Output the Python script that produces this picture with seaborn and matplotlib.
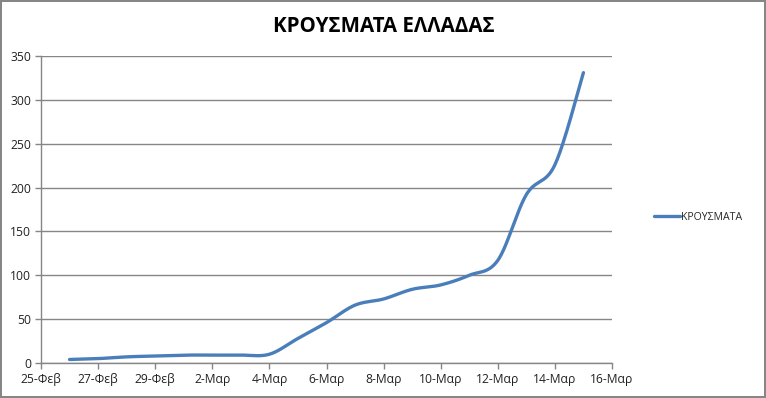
import numpy as np
import pandas as pd
import matplotlib
matplotlib.use("Agg")
import matplotlib.pyplot as plt
import seaborn as sns

# daily cases
dates = ["2020-02-26", "2020-02-27", "2020-02-28", "2020-02-29", "2020-03-01",
         "2020-03-02", "2020-03-03", "2020-03-04", "2020-03-05", "2020-03-06",
         "2020-03-07", "2020-03-08", "2020-03-09", "2020-03-10", "2020-03-11",
         "2020-03-12", "2020-03-13", "2020-03-14", "2020-03-15"]
cases = [4, 5, 7, 8, 9, 9, 9, 10, 28, 46, 66, 73, 84, 89, 100, 117, 192, 226, 331]

tick_dates = ["2020-02-25", "2020-02-27", "2020-02-29", "2020-03-02", "2020-03-04",
              "2020-03-06", "2020-03-08", "2020-03-10", "2020-03-12", "2020-03-14",
              "2020-03-16"]
tick_labels = ["25-Φεβ", "27-Φεβ", "29-Φεβ", "2-Μαρ", "4-Μαρ", "6-Μαρ",
               "8-Μαρ", "10-Μαρ", "12-Μαρ", "14-Μαρ", "16-Μαρ"]

title = "ΚΡΟΥΣΜΑΤΑ ΕΛΛΑΔΑΣ"
series_name = "ΚΡΟΥΣΜΑΤΑ"

origin = pd.Timestamp("2020-02-25")
x = np.array([(pd.Timestamp(d) - origin).days for d in dates], dtype=float)
y = np.array(cases, dtype=float)
xt = [(pd.Timestamp(d) - origin).days for d in tick_dates]

# smoothed line like excel (bezier through the points)
px = np.concatenate([[x[0]], x, [x[-1]]])
py = np.concatenate([[y[0]], y, [y[-1]]])
sx, sy = [], []
t = np.linspace(0, 1, 25)
for i in range(1, len(px) - 2):
    p0 = np.array([px[i], py[i]])
    p3 = np.array([px[i + 1], py[i + 1]])
    c1 = p0 + (np.array([px[i + 1], py[i + 1]]) - np.array([px[i - 1], py[i - 1]])) / 6
    c2 = p3 - (np.array([px[i + 2], py[i + 2]]) - np.array([px[i], py[i]])) / 6
    pts = ((1 - t)[:, None] ** 3 * p0 + 3 * ((1 - t) ** 2 * t)[:, None] * c1
           + 3 * ((1 - t) * t ** 2)[:, None] * c2 + (t ** 3)[:, None] * p3)
    sx.extend(pts[:, 0])
    sy.extend(pts[:, 1])
smooth = pd.DataFrame({"day": sx, "cases": sy, "series": series_name})

sns.set_style("white")
plt.rcParams["font.family"] = ["Open Sans", "DejaVu Sans"]

fig = plt.figure(figsize=(7.66, 3.98), dpi=100, edgecolor="#868686", linewidth=1.5)
ax = fig.add_axes([41 / 766, 1 - 363 / 398, (612 - 41) / 766, (363 - 56) / 398])

sns.lineplot(data=smooth, x="day", y="cases", hue="series", palette=["#4A7EBB"],
             sort=False, estimator=None, linewidth=2.4, ax=ax)

ax.set_xlim(0, 20)
ax.set_ylim(0, 350)
ax.set_xticks(xt)
ax.set_xticklabels(tick_labels)
ax.set_yticks(range(0, 351, 50))
ax.set_xlabel("")
ax.set_ylabel("")
ax.grid(axis="y", color="#868686", linewidth=1)
ax.set_axisbelow(True)
for s in ["top", "right"]:
    ax.spines[s].set_visible(False)
for s in ["left", "bottom"]:
    ax.spines[s].set_color("#868686")
    ax.spines[s].set_linewidth(1)
ax.tick_params(axis="both", direction="out", length=4, width=1, color="#868686",
               labelsize=8.7, labelcolor="#222222", pad=3, left=True, bottom=True)

ax.get_legend().remove()
h, l = ax.get_legend_handles_labels()
fig.legend(h, l, loc="center left", bbox_to_anchor=(644 / 766, 1 - 217 / 398),
           frameon=False, fontsize=7.6, handlelength=2.5, handletextpad=0.1)

fig.text(384 / 766, 1 - 27 / 398, title, ha="center", va="center",
         fontsize=14.8, fontweight="bold", color="black")

fig.savefig("out.png", dpi=100, edgecolor=fig.get_edgecolor())
